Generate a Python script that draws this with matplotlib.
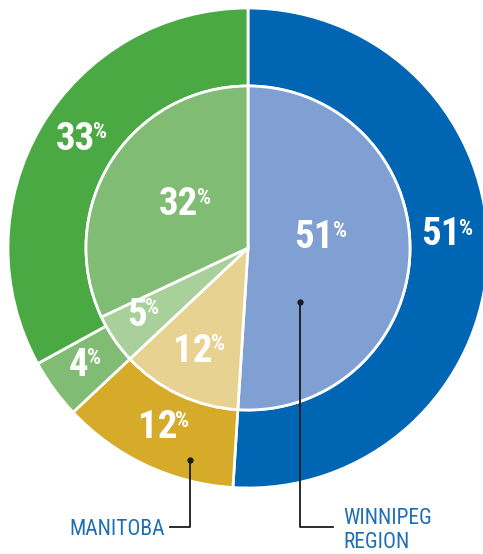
import matplotlib
matplotlib.use("Agg")
import matplotlib.pyplot as plt

# ---- data ----
outer_values = [51, 12, 4, 33]
inner_values = [51, 12, 5, 32]
outer_colors = ["#0066b3", "#d5ab29", "#80bc73", "#4aa943"]
inner_colors = ["#80a0d3", "#e8d291", "#a9d09b", "#80bc73"]
callout_labels = ["MANITOBA", "WINNIPEG", "REGION"]

W, H = 483, 554
fig = plt.figure(figsize=(W / 100, H / 100), dpi=100)
ax = fig.add_axes([0, 0, 1, 1])

cx, cy = 248, H - 248
R_out, R_in = 240, 162

ax.pie(outer_values, radius=R_out, center=(cx, cy), startangle=90, counterclock=False,
       colors=outer_colors,
       wedgeprops=dict(width=R_out - R_in, edgecolor="white", linewidth=2))
ax.pie(inner_values, radius=R_in, center=(cx, cy), startangle=90, counterclock=False,
       colors=inner_colors,
       wedgeprops=dict(edgecolor="white", linewidth=2))

ax.set_xlim(0, W)
ax.set_ylim(0, H)
ax.set_aspect("equal")
ax.axis("off")

num_font = ["Roboto Condensed", "Liberation Sans Narrow", "DejaVu Sans"]
lab_font = ["Roboto Condensed", "Liberation Sans Narrow", "DejaVu Sans"]

# label placement: (x split between number and %, top pixel y, bottom pixel y)
label_pos_outer = [(461, 220, 245), (177, 412, 438), (88, 349, 376), (95, 123, 150)]
label_pos_inner = [(334, 222, 248), (212, 335, 362), (147, 299, 326), (198, 189, 215)]


def pct_label(val, pos):
    xs, ytop, ybot = pos
    ax.text(xs, H - ybot, f"{val}", ha="right", va="baseline", color="white",
            fontsize=28, fontweight="bold", family=num_font)
    ax.text(xs - 1.5, H - ytop - 15, "%", ha="left", va="baseline", color="white",
            fontsize=16, fontweight="bold", family=num_font)


for v, p in zip(outer_values, label_pos_outer):
    pct_label(v, p)
for v, p in zip(inner_values, label_pos_inner):
    pct_label(v, p)

# callouts
line_col = "#1a1a1a"
label_col = "#1e6db5"
# Manitoba
ax.plot([190, 190, 170], [H - 460, H - 527, H - 527], color=line_col, lw=1.3)
ax.plot([190], [H - 460], "o", color=line_col, ms=3.5)
ax.text(165, H - 535, callout_labels[0], ha="right", va="baseline", color=label_col,
        fontsize=15.5, family=lab_font)
# Winnipeg Region
ax.plot([300, 300, 333], [H - 302, H - 527, H - 527], color=line_col, lw=1.3)
ax.plot([300], [H - 302], "o", color=line_col, ms=3.5)
ax.text(343, H - 524, callout_labels[1], ha="left", va="baseline", color=label_col,
        fontsize=15.5, family=lab_font)
ax.text(343, H - 548, callout_labels[2], ha="left", va="baseline", color=label_col,
        fontsize=15.5, family=lab_font)

fig.savefig("out.png", dpi=100)
